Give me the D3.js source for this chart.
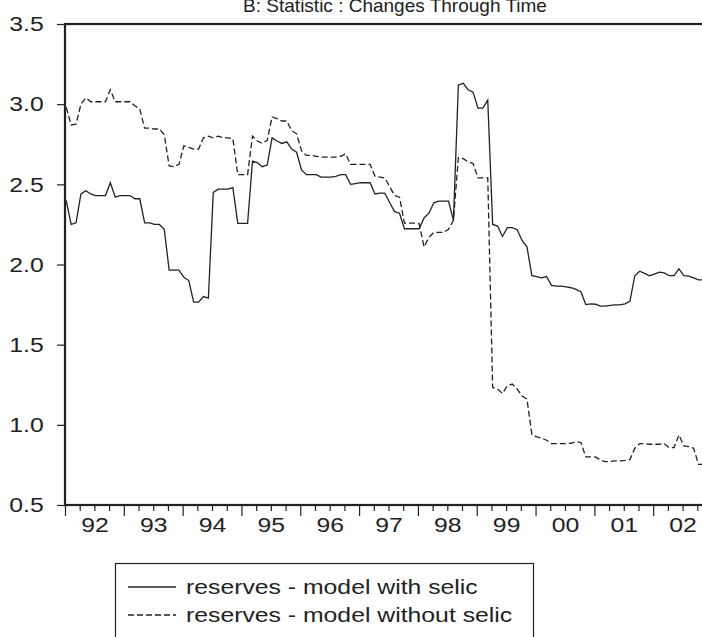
<!DOCTYPE html>
<html>
<head>
<meta charset="utf-8">
<title>B: Statistic : Changes Through Time</title>
<script src="https://cdn.jsdelivr.net/npm/d3@7"></script>
<style>
  body { margin: 0; background: #fff; }
  text { font-family: "Liberation Sans", Arial, sans-serif; fill: #222; }
</style>
</head>
<body>
<div id="chart"></div>
<script>
// monthly values, 1992:01 .. 2002:12
const startYear = 1992;
const yearLabels = ["92", "93", "94", "95", "96", "97", "98", "99", "00", "01", "02"];
const yTicks = [0.5, 1.0, 1.5, 2.0, 2.5, 3.0, 3.5];
const seriesNames = ["reserves - model with selic", "reserves - model without selic"];

const withSelic = [
  2.40, 2.25, 2.26, 2.44, 2.46, 2.44, 2.43, 2.43, 2.43, 2.51,
  2.42, 2.43, 2.43, 2.43, 2.41, 2.41, 2.26, 2.26, 2.25, 2.25,
  2.22, 1.965, 1.965, 1.965, 1.92, 1.90, 1.765, 1.765, 1.80, 1.79,
  2.45, 2.47, 2.47, 2.47, 2.48, 2.256, 2.256, 2.256, 2.645, 2.635,
  2.61, 2.62, 2.79, 2.77, 2.755, 2.765, 2.72, 2.70, 2.59, 2.56,
  2.56, 2.56, 2.545, 2.545, 2.545, 2.55, 2.56, 2.56, 2.50, 2.505,
  2.51, 2.51, 2.51, 2.44, 2.445, 2.445, 2.385, 2.33, 2.32, 2.223,
  2.223, 2.223, 2.223, 2.29, 2.32, 2.385, 2.395, 2.395, 2.395, 2.275,
  3.12, 3.13, 3.09, 3.075, 2.975, 2.975, 3.025, 2.25, 2.24, 2.175,
  2.23, 2.23, 2.217, 2.15, 2.11, 1.93, 1.925, 1.917, 1.925, 1.87,
  1.865, 1.865, 1.86, 1.855, 1.845, 1.83, 1.75, 1.755, 1.752, 1.74,
  1.74, 1.745, 1.748, 1.748, 1.755, 1.77, 1.93, 1.958, 1.945, 1.93,
  1.94, 1.952, 1.948, 1.93, 1.93, 1.973, 1.93, 1.928, 1.917, 1.904,
  1.904, 1.904
];

const withoutSelic = [
  2.98, 2.87, 2.875, 3.00, 3.04, 3.015, 3.015, 3.015, 3.015, 3.09,
  3.015, 3.015, 3.015, 3.015, 2.99, 2.97, 2.85, 2.85, 2.845, 2.845,
  2.81, 2.615, 2.61, 2.625, 2.74, 2.73, 2.72, 2.72, 2.79, 2.80,
  2.79, 2.80, 2.79, 2.79, 2.785, 2.56, 2.56, 2.56, 2.80, 2.77,
  2.755, 2.775, 2.92, 2.91, 2.895, 2.895, 2.835, 2.815, 2.71, 2.68,
  2.68, 2.675, 2.67, 2.67, 2.67, 2.67, 2.675, 2.69, 2.625, 2.625,
  2.625, 2.625, 2.625, 2.55, 2.545, 2.54, 2.485, 2.43, 2.42, 2.258,
  2.258, 2.258, 2.255, 2.11, 2.17, 2.20, 2.20, 2.20, 2.22, 2.275,
  2.667, 2.66, 2.64, 2.63, 2.54, 2.54, 2.54, 1.233, 1.223, 1.196,
  1.244, 1.254, 1.223, 1.18, 1.16, 0.94, 0.925, 0.917, 0.904, 0.883,
  0.883, 0.883, 0.883, 0.885, 0.896, 0.89, 0.80, 0.80, 0.80, 0.78,
  0.77, 0.772, 0.775, 0.775, 0.778, 0.783, 0.854, 0.883, 0.883, 0.879,
  0.879, 0.879, 0.883, 0.858, 0.858, 0.937, 0.869, 0.864, 0.854, 0.754,
  0.754, 0.754
];

const W = 702, H = 637;
const plotL = 65, plotR = 712, plotT = 24, plotB = 505;
const ink = "#222";
const fontPx = 21, stretch = 1.18; // the original lettering is a little wide

const svg = d3.select("#chart").append("svg")
  .attr("width", W).attr("height", H)
  .style("display", "block");

const endYear = startYear + yearLabels.length;
const x = d3.scaleLinear().domain([startYear, endYear]).range([plotL, plotR]);
const y = d3.scaleLinear().domain([0.5, 3.5]).range([plotB, plotT]);

// month i is drawn a bit inside its slot, like the original
const t = i => startYear + (i + 0.25) / 12;

// title (its top is cut off by the edge in the original)
svg.append("text")
  .attr("transform", `translate(395,12)`)
  .attr("text-anchor", "middle")
  .style("font-size", "19px")
  .text("B: Statistic : Changes Through Time");

// y axis
const yAxis = d3.axisLeft(y).tickValues(yTicks).tickFormat(d3.format(".1f"))
  .tickSize(8).tickPadding(10).tickSizeOuter(0);
const gy = svg.append("g").attr("transform", `translate(${plotL},0)`).call(yAxis);
gy.select(".domain").remove();

// x axis: year ticks, quarter ticks, labels at mid-year
const years = d3.range(startYear, endYear + 1);
const quarters = d3.range(startYear * 4, endYear * 4).map(q => q / 4).filter(q => q % 1 !== 0);

const gxMajor = svg.append("g").attr("transform", `translate(0,${plotB})`)
  .call(d3.axisBottom(x).tickValues(years).tickFormat("").tickSize(11).tickSizeOuter(0));
const gxMinor = svg.append("g").attr("transform", `translate(0,${plotB})`)
  .call(d3.axisBottom(x).tickValues(quarters).tickFormat("").tickSize(6).tickSizeOuter(0));
const gxLab = svg.append("g").attr("transform", `translate(0,${plotB})`)
  .call(d3.axisBottom(x).tickValues(yearLabels.map((d, i) => startYear + i + 0.5))
    .tickFormat((d, i) => yearLabels[i]).tickSize(0).tickPadding(12));
[gxMajor, gxMinor, gxLab].forEach(g => g.select(".domain").remove());
svg.selectAll("g line").attr("stroke", ink).attr("stroke-width", 1.2);

[gy, gxLab].forEach(g => g.selectAll("text")
  .style("font-size", fontPx + "px").attr("fill", ink)
  .style("font-family", "Liberation Sans, Arial, sans-serif")
  .attr("transform", `scale(${stretch},1)`));

// plot frame
svg.append("rect")
  .attr("x", plotL).attr("y", plotT)
  .attr("width", plotR - plotL).attr("height", plotB - plotT)
  .attr("fill", "none").attr("stroke", ink).attr("stroke-width", 2.2);

// series
const line = d3.line().x((d, i) => x(t(i))).y(d => y(d));

svg.append("path").datum(withSelic)
  .attr("d", line)
  .attr("fill", "none").attr("stroke", ink).attr("stroke-width", 1.3);

svg.append("path").datum(withoutSelic)
  .attr("d", line)
  .attr("fill", "none").attr("stroke", ink).attr("stroke-width", 1.3)
  .attr("stroke-dasharray", "6,3");

// legend
const lg = svg.append("g");
lg.append("rect")
  .attr("x", 115.5).attr("y", 563.5).attr("width", 418).attr("height", 100)
  .attr("fill", "none").attr("stroke", ink).attr("stroke-width", 1.2);
seriesNames.forEach((name, i) => {
  const ly = 587 + i * 28;
  lg.append("line")
    .attr("x1", 128).attr("x2", 176).attr("y1", ly).attr("y2", ly)
    .attr("stroke", ink).attr("stroke-width", 1.3)
    .attr("stroke-dasharray", i === 1 ? "6,3" : null);
  lg.append("text")
    .attr("transform", `translate(186,${ly}) scale(${stretch},1)`)
    .attr("dy", "0.35em")
    .style("font-size", fontPx + "px")
    .text(name);
});
</script>
</body>
</html>
